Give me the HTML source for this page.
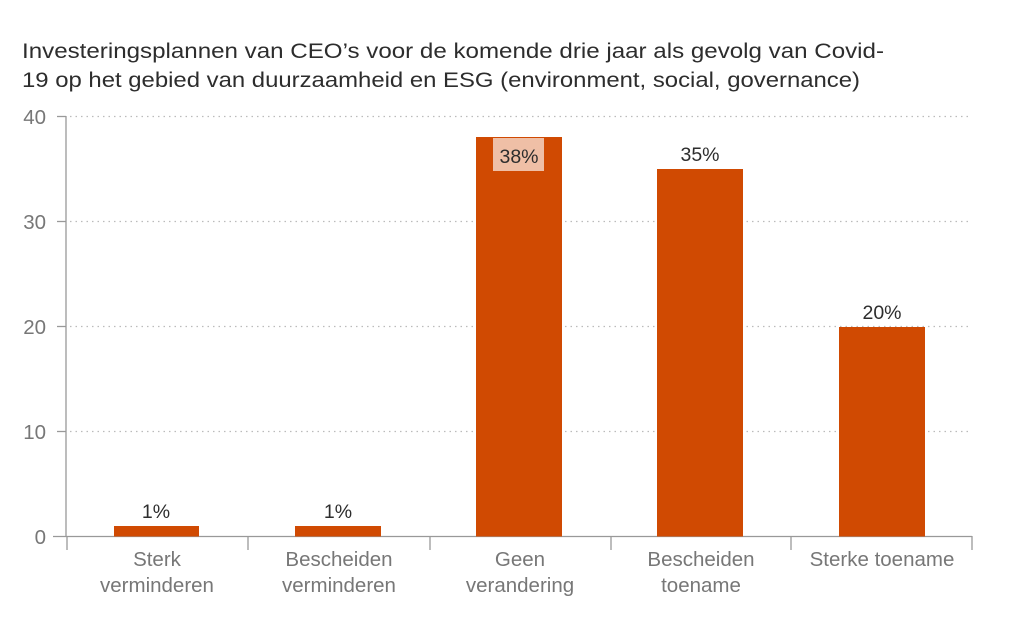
<!DOCTYPE html>
<html><head><meta charset="utf-8"><style>body{margin:0;background:#fff}svg{display:block}</style></head>
<body>
<svg width="1029" height="643" xmlns="http://www.w3.org/2000/svg" font-family="Liberation Sans, sans-serif">
<g fill="#2d2d2d" font-size="21">
<text x="22" y="58" textLength="862" lengthAdjust="spacingAndGlyphs">Investeringsplannen van CEO’s voor de komende drie jaar als gevolg van Covid-</text>
<text x="22" y="87" textLength="838" lengthAdjust="spacingAndGlyphs">19 op het gebied van duurzaamheid en ESG (environment, social, governance)</text>
</g>
<g stroke="#bbb" stroke-width="1.3" stroke-dasharray="1.5,4">
<line x1="70" y1="116.5" x2="972" y2="116.5"/>
<line x1="70" y1="221.5" x2="972" y2="221.5"/>
<line x1="70" y1="326.5" x2="972" y2="326.5"/>
<line x1="70" y1="431.5" x2="972" y2="431.5"/>
</g>
<g stroke="#999" stroke-width="1.3" fill="none">
<line x1="66" y1="116" x2="66" y2="537"/>
<line x1="57" y1="116.5" x2="66" y2="116.5"/>
<line x1="57" y1="221.5" x2="66" y2="221.5"/>
<line x1="57" y1="326.5" x2="66" y2="326.5"/>
<line x1="57" y1="431.5" x2="66" y2="431.5"/>
<line x1="53" y1="536.5" x2="972" y2="536.5"/>
<line x1="67" y1="536" x2="67" y2="550"/>
<line x1="248" y1="536" x2="248" y2="550"/>
<line x1="430" y1="536" x2="430" y2="550"/>
<line x1="611" y1="536" x2="611" y2="550"/>
<line x1="791" y1="536" x2="791" y2="550"/>
<line x1="972" y1="536" x2="972" y2="550"/>
</g>
<g fill="#777" font-size="20.5" text-anchor="end">
<text x="46" y="124">40</text>
<text x="46" y="229">30</text>
<text x="46" y="334">20</text>
<text x="46" y="439">10</text>
<text x="46" y="544">0</text>
</g>
<g fill="#d04a02">
<rect x="114" y="526" width="85" height="10.5"/>
<rect x="295" y="526" width="86" height="10.5"/>
<rect x="476" y="137" width="86" height="399.5"/>
<rect x="657" y="169" width="86" height="367.5"/>
<rect x="839" y="327" width="86" height="209.5"/>
</g>
<rect x="493" y="138" width="51" height="33" fill="#efbfa6"/>
<g fill="#2d2d2d" font-size="19.5" text-anchor="middle">
<text x="156" y="518">1%</text>
<text x="338" y="518">1%</text>
<text x="519" y="163">38%</text>
<text x="700" y="161">35%</text>
<text x="882" y="319">20%</text>
</g>
<g fill="#777" font-size="20.5" text-anchor="middle">
<text x="157" y="566">Sterk</text><text x="157" y="592">verminderen</text>
<text x="339" y="566">Bescheiden</text><text x="339" y="592">verminderen</text>
<text x="520" y="566">Geen</text><text x="520" y="592">verandering</text>
<text x="701" y="566">Bescheiden</text><text x="701" y="592">toename</text>
<text x="882" y="566">Sterke toename</text>
</g>
</svg>
</body></html>
